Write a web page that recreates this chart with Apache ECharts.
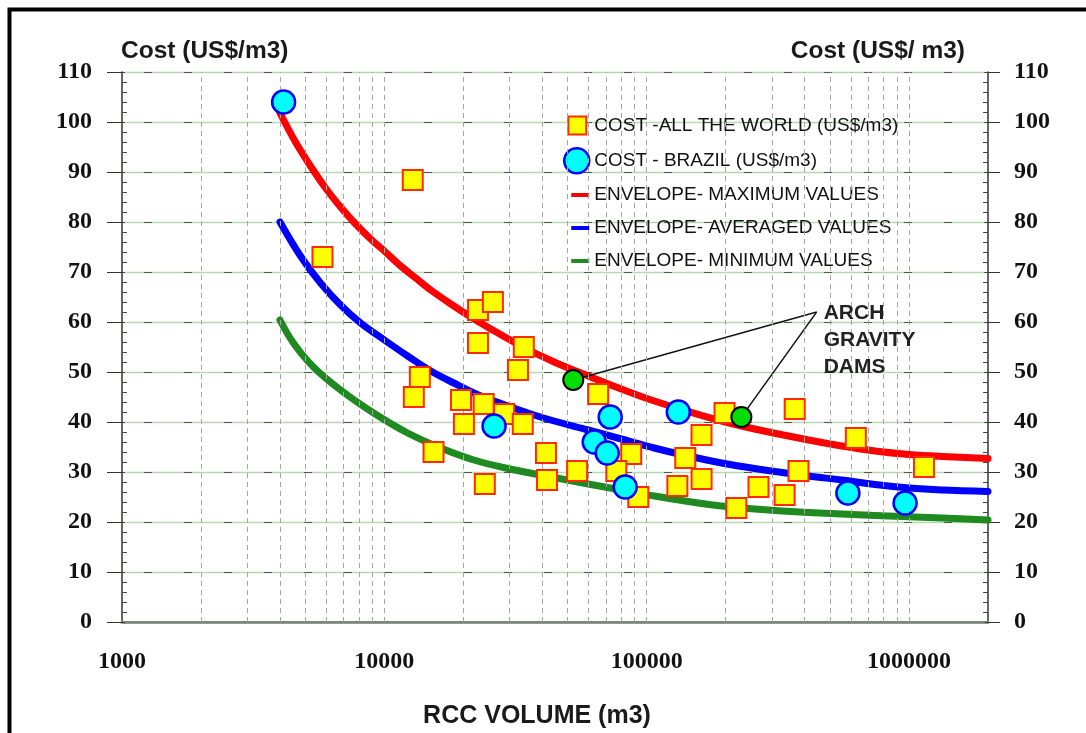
<!DOCTYPE html>
<html><head><meta charset="utf-8">
<script src="https://cdn.jsdelivr.net/npm/echarts@6/dist/echarts.min.js"></script>
<style>html,body{margin:0;padding:0;background:#fff}#c{width:1086px;height:733px}</style>
</head><body><div id="c"></div>
<script>
// ---- tick labels ----
const xTickValues = [1000, 10000, 100000, 1000000];
const xTickLabels = ['1000', '10000', '100000', '1000000'];
const yTickLabels = ['0','10','20','30','40','50','60','70','80','90','100','110'];
const xGridValues = [2000,3000,4000,5000,6000,7000,8000,9000,10000,
  20000,30000,40000,50000,60000,70000,80000,90000,100000,
  200000,300000,400000,500000,600000,700000,800000,900000,1000000];

// ---- data: cost all the world ----
const worldVolume = [5810,12830,22740,25930,22740,34000,32300,13650,12950,19600,23900,28600,20100,33700,15400,41300,41700,24150,
  65300,198000,161800,87300,140300,54300,76600,161900,130900,92900,219600,366600,626700,1140000,379000,266800,335500];
const worldCost = [73,88.4,62.4,64,55.8,55,50.4,49,45,44.4,43.6,41.6,39.6,39.6,34,33.8,28.4,27.6,
  45.6,41.8,37.4,33.6,32.8,30.2,30.2,28.6,27.2,25,22.8,42.6,36.8,31,30.2,27,25.4];

// ---- data: cost Brazil ----
const brazilVolume = [4130,26200,72600,132000,63100,70700,82800,584700,966000];
const brazilCost = [104,39.2,41,42,36,33.8,27,25.8,23.8];

// ---- arch gravity dams ----
const archVolume = [52500,229600];
const archCost = [48.4,41];
const annotationAnchor = [444600, 62];

// ---- envelopes ----
const maxEnvVolume = [4000,4583,5228,5967,6808,7770,8866,10000,11543,13172,15029,17920,21370,25480,33180,44370,59820,79980,106900,144200,192800,257800,414400,554100,740800,1000000,1336000,2000000];
const maxEnvCost   = [101.8,96,91.2,86.8,83,79.6,76.6,74.2,71.2,68.8,66.4,63.6,61,58.6,55.2,52,49.2,46.6,44.2,42.1,40.2,38.6,36.4,35.2,34.2,33.5,33.1,32.7];
const avgEnvVolume = [4000,4789,5710,6808,8118,10000,12270,15030,18400,23340,29590,37200,44370,59820,79980,106900,144200,192800,257800,414400,554100,740800,1000000,1336000,2000000];
const avgEnvCost   = [80,73.2,67.8,63.4,59.8,56.4,53.2,50.2,47.8,45.2,43.2,41.4,40.2,38.4,36.6,34.8,33.2,31.8,30.7,29.2,28.4,27.5,26.8,26.4,26.1];
const minEnvVolume = [4000,4502,5368,6808,9102,12270,16410,21940,29590,39560,44370,59820,79980,106900,144200,192800,257800,414400,740800,1336000,2000000];
const minEnvCost   = [60.4,55.8,51,46.4,41.8,37.8,34.8,32.4,30.7,29.4,28.9,27.6,26.4,25.2,24.1,23.2,22.6,21.9,21.3,20.8,20.4];

const names = ['COST -ALL THE WORLD (US$/m3)','COST - BRAZIL (US$/m3)','ENVELOPE- MAXIMUM VALUES','ENVELOPE- AVERAGED VALUES','ENVELOPE- MINIMUM VALUES'];

const zip = (a, b) => a.map((v, i) => [v, b[i]]);
const serifBold = {fontFamily: '"Liberation Serif", serif', fontWeight: 'bold', fontSize: 24, color: '#111'};

const chart = echarts.init(document.getElementById('c'), null, {renderer: 'canvas'});

const yBase = {type: 'value', min: 0, max: 110, interval: 10};
const lineIcon = 'path://M0,0M25,25M7,10.5L25,10.5L25,14.5L7,14.5Z';
const option = {
  animation: false,
  backgroundColor: '#fff',
  grid: {left: 122, right: 98, top: 72, bottom: 111},
  xAxis: [{
    type: 'log', logBase: 10, min: 1000, max: 2000000, position: 'bottom',
    axisLine: {lineStyle: {color: '#8c9c88', width: 3}},
    axisTick: {show: false},
    splitLine: {show: false},
    axisLabel: Object.assign({margin: 28, formatter: v => {
      const i = xTickValues.findIndex(t => Math.abs(t - v) / t < 1e-6);
      return i >= 0 ? xTickLabels[i] : '';
    }}, serifBold)
  }, {
    type: 'log', logBase: 10, min: 1000, max: 2000000, position: 'top',
    axisLine: {lineStyle: {color: '#777', width: 1.5, type: 'dotted'}},
    axisTick: {show: false}, axisLabel: {show: false}, splitLine: {show: false}
  }],
  yAxis: [
    Object.assign({}, yBase, {position: 'left',
      axisLine: {show: true, lineStyle: {color: '#333', width: 1.5}},
      axisTick: {show: true, length: 15, lineStyle: {color: '#333'}},
      splitLine: {show: true, lineStyle: {color: '#b9d6b2', width: 1.3}},
      axisLabel: Object.assign({margin: 30, padding: [9, 0, 0, 0], formatter: v => yTickLabels[Math.round(v / 10)]}, serifBold)}),
    Object.assign({}, yBase, {position: 'right',
      axisLine: {show: true, lineStyle: {color: '#333', width: 1.5}},
      axisTick: {show: true, length: 12, lineStyle: {color: '#333'}},
      splitLine: {show: true, lineStyle: {color: '#555', width: 1, type: [8, 32], dashOffset: 18}},
      axisLabel: Object.assign({margin: 26, padding: [9, 0, 0, 0], formatter: v => yTickLabels[Math.round(v / 10)]}, serifBold)}),
    Object.assign({}, yBase, {position: 'left',
      axisLine: {show: false}, axisLabel: {show: false}, splitLine: {show: false},
      axisTick: {show: true, inside: true, length: 3, lineStyle: {color: '#444'}},
      minorTick: {show: true, splitNumber: 5, length: 5, lineStyle: {color: '#444'}}}),
    Object.assign({}, yBase, {position: 'right',
      axisLine: {show: false}, axisLabel: {show: false}, splitLine: {show: false},
      axisTick: {show: true, inside: true, length: 3, lineStyle: {color: '#444'}},
      minorTick: {show: true, splitNumber: 5, length: 5, lineStyle: {color: '#444'}}})
  ],
  legend: {
    orient: 'vertical', left: 563, top: 112, padding: 0, itemWidth: 25, itemHeight: 25, itemGap: 8,
    textStyle: {fontFamily: '"Liberation Sans", Arial, sans-serif', fontSize: 19, color: '#111'},
    data: [
      {name: names[0], icon: 'path://M0,0M25,25M4,3.5L22,3.5L22,21.5L4,21.5Z', itemStyle: {color: '#ffff00', borderColor: '#ff2a00', borderWidth: 2}},
      {name: names[1], icon: 'circle', itemStyle: {color: '#00ffff', borderColor: '#0000ff', borderWidth: 2.5}},
      {name: names[2], icon: lineIcon, itemStyle: {color: '#ff0000', borderWidth: 0}},
      {name: names[3], icon: lineIcon, itemStyle: {color: '#0000ff', borderWidth: 0}},
      {name: names[4], icon: lineIcon, itemStyle: {color: '#1f8a1f', borderWidth: 0}}
    ]
  },
  series: [
    {name: 'grid', type: 'line', data: [], z: 1, silent: true,
      markLine: {silent: true, symbol: ['none', 'none'], label: {show: false}, animation: false,
        lineStyle: {color: '#a6a6a6', width: 1, type: [5, 4]},
        data: xGridValues.map(v => ({xAxis: v}))}},
    {name: names[2], type: 'line', smooth: 0.35, showSymbol: false, z: 3, data: zip(maxEnvVolume, maxEnvCost),
      itemStyle: {color: '#ff0000'}, lineStyle: {color: '#ff0000', width: 7, cap: 'round', join: 'round'}},
    {name: names[3], type: 'line', smooth: 0.35, showSymbol: false, z: 3, data: zip(avgEnvVolume, avgEnvCost),
      itemStyle: {color: '#0000ff'}, lineStyle: {color: '#0000ff', width: 7, cap: 'round', join: 'round'}},
    {name: names[4], type: 'line', smooth: 0.35, showSymbol: false, z: 3, data: zip(minEnvVolume, minEnvCost),
      itemStyle: {color: '#1f8a1f'}, lineStyle: {color: '#1f8a1f', width: 7, cap: 'round', join: 'round'}},
    {name: 'ann1', type: 'line', showSymbol: false, z: 4, data: [annotationAnchor, [archVolume[0], archCost[0]]],
      lineStyle: {color: '#111', width: 1.3}},
    {name: 'ann2', type: 'line', showSymbol: false, z: 4, data: [annotationAnchor, [archVolume[1], archCost[1]]],
      lineStyle: {color: '#111', width: 1.3}},
    {name: names[0], type: 'scatter', symbol: 'rect', symbolSize: 20, z: 5, data: zip(worldVolume, worldCost),
      itemStyle: {color: '#ffff00', borderColor: '#ff2a00', borderWidth: 2, opacity: 1}},
    {name: names[1], type: 'scatter', symbol: 'circle', symbolSize: 23, z: 5, data: zip(brazilVolume, brazilCost),
      itemStyle: {color: '#00ffff', borderColor: '#0000ff', borderWidth: 2.5, opacity: 1}},
    {name: 'arch', type: 'scatter', symbol: 'circle', symbolSize: 20, z: 6, data: zip(archVolume, archCost),
      itemStyle: {color: '#00dd00', borderColor: '#000', borderWidth: 2, opacity: 1}}
  ]
};
chart.setOption(option);

const anchorPx = chart.convertToPixel({xAxisIndex: 0, yAxisIndex: 0}, annotationAnchor);
const sans = '"Liberation Sans", Arial, sans-serif';
chart.setOption({
  graphic: [
    {type: 'rect', silent: true, z: 100, shape: {x: 9.5, y: 9.5, width: 1200, height: 1000},
      style: {fill: 'none', stroke: '#000', lineWidth: 4}},
    {type: 'text', left: 121, top: 39, z: 100, style: {text: 'Cost (US$/m3)', font: 'bold 24.5px ' + sans, fill: '#1a1a1a'}},
    {type: 'text', right: 121, top: 39, z: 100, style: {text: 'Cost (US$/ m3)', font: 'bold 24.5px ' + sans, fill: '#1a1a1a'}},
    {type: 'text', x: 537, y: 716, z: 100, style: {text: 'RCC VOLUME (m3)', font: 'bold 25px ' + sans, fill: '#1a1a1a', align: 'center', verticalAlign: 'middle'}},
    {type: 'text', x: anchorPx[0] + 7, y: anchorPx[1] - 12, z: 100,
      style: {text: 'ARCH\nGRAVITY\nDAMS', font: 'bold 21px ' + sans, lineHeight: 27, fill: '#222', align: 'left', verticalAlign: 'top'}}
  ]
});
</script></body></html>
